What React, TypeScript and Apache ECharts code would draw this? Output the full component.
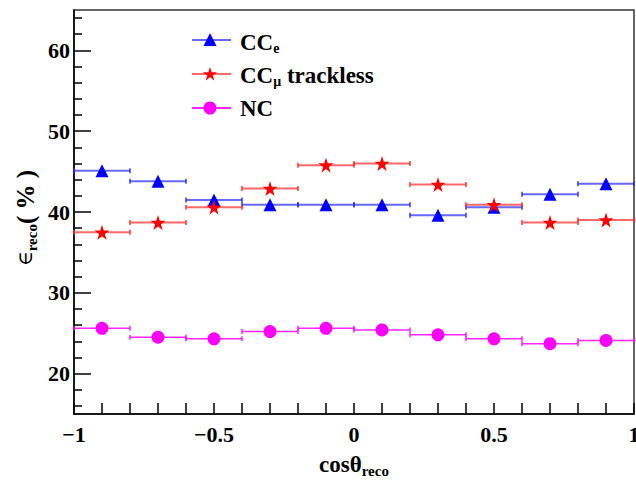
import React, { useEffect, useRef } from "react";
import * as echarts from "echarts";

// Bin centres in cos(theta_reco); each bin spans +/- BIN_HALF_WIDTH
const BIN_CENTERS = [-0.9, -0.7, -0.5, -0.3, -0.1, 0.1, 0.3, 0.5, 0.7, 0.9];
const BIN_HALF_WIDTH = 0.1;

// Reconstruction efficiency (%) per bin
const CC_E = [45.1, 43.8, 41.5, 40.9, 40.9, 40.9, 39.6, 40.6, 42.2, 43.5];
const CC_MU_TRACKLESS = [37.5, 38.7, 40.6, 42.9, 45.8, 46.0, 43.4, 40.9, 38.7, 39.0];
const NC = [25.6, 24.5, 24.3, 25.2, 25.6, 25.4, 24.8, 24.3, 23.7, 24.1];

// Axis ticks and labels
const X_TICKS = [-1, -0.9, -0.8, -0.7, -0.6, -0.5, -0.4, -0.3, -0.2, -0.1, 0, 0.1, 0.2, 0.3, 0.4, 0.5, 0.6, 0.7, 0.8, 0.9, 1];
const X_LABELS = [-1, -0.5, 0, 0.5, 1];
const Y_MAJOR = [20, 30, 40, 50, 60];
const Y_MINOR = [16, 18, 22, 24, 26, 28, 32, 34, 36, 38, 42, 44, 46, 48, 52, 54, 56, 58, 62, 64];
const Y_MIN = 15;
const Y_MAX = 65;

const SERIF = "'Liberation Serif', 'Times New Roman', serif";

const STAR_PATH =
  "path://M100,0 L122.45,69.1 L195.11,69.1 L136.33,111.8 L158.78,180.9 L100,138.2 L41.22,180.9 L63.67,111.8 L4.89,69.1 L77.55,69.1 Z";

function starPoints(cx: number, cy: number, r: number): number[][] {
  const pts: number[][] = [];
  for (let i = 0; i < 10; i++) {
    const a = -Math.PI / 2 + (i * Math.PI) / 5;
    const rr = i % 2 === 0 ? r : r * 0.382;
    pts.push([cx + rr * Math.cos(a), cy + rr * Math.sin(a)]);
  }
  return pts;
}

function pairs(ys: number[]): number[][] {
  return BIN_CENTERS.map((x, i) => [x, ys[i]]);
}

function errorBars(name: string, ys: number[], color: string, width: number) {
  return {
    name,
    type: "custom",
    data: pairs(ys),
    z: 2,
    renderItem: (_params: any, api: any) => {
      const x = api.value(0);
      const y = api.value(1);
      const a = api.coord([x - BIN_HALF_WIDTH, y]);
      const b = api.coord([x + BIN_HALF_WIDTH, y]);
      const style = { stroke: color, lineWidth: width };
      return {
        type: "group",
        children: [
          { type: "line", shape: { x1: a[0], y1: a[1], x2: b[0], y2: b[1] }, style },
          { type: "line", shape: { x1: a[0], y1: a[1] - 2.5, x2: a[0], y2: a[1] + 2.5 }, style },
          { type: "line", shape: { x1: b[0], y1: b[1] - 2.5, x2: b[0], y2: b[1] + 2.5 }, style },
        ],
      };
    },
  };
}

function markers(name: string, ys: number[], color: string, symbol: string, size: number) {
  return {
    name,
    type: "scatter",
    data: pairs(ys),
    symbol,
    symbolSize: size,
    z: 3,
    itemStyle: { color, opacity: 1 },
  };
}

const BLUE = "#0000ff";
const RED = "#ff0000";
const MAGENTA = "#ff00ff";
const BLUE_BAR = "rgba(40,40,255,0.7)";
const RED_BAR = "rgba(255,40,40,0.7)";
const MAGENTA_BAR = "rgba(255,0,255,0.85)";

export default function App() {
  const ref = useRef<HTMLDivElement>(null);

  useEffect(() => {
    document.body.style.margin = "0";
    if (!ref.current) return;
    const chart = echarts.init(ref.current, undefined, { renderer: "svg" });

    const labelStyle = { fontFamily: SERIF, fontWeight: "bold", fontSize: 22, color: "#000" };
    const legendRich = {
      m: { fontFamily: SERIF, fontWeight: "bold", fontSize: 23, color: "#000" },
      s: { fontFamily: SERIF, fontWeight: "bold", fontSize: 14, color: "#000", padding: [13, 0, 0, 0] },
    };

    const legendX0 = 192;
    const legendX1 = 231;
    const legendMX = 210;
    const rows = [40, 74, 108];

    chart.setOption({
      animation: false,
      grid: {
        left: 74,
        right: 2,
        top: 10,
        bottom: 68,
        outerBoundsMode: "none",
        containLabel: false,
        show: true,
        borderColor: "#333",
        borderWidth: 1.5,
        backgroundColor: "transparent",
      },
      xAxis: {
        type: "value",
        min: -1,
        max: 1,
        interval: 0.5,
        axisLine: { onZero: false, lineStyle: { color: "#000", width: 1.5 } },
        axisTick: { inside: true, length: 11, customValues: X_TICKS, lineStyle: { color: "#000", width: 1.5 } },
        axisLabel: {
          ...labelStyle,
          margin: 9,
          customValues: X_LABELS,
          formatter: (v: number) => (v < 0 ? "\u2212" + Math.abs(v) : String(v)),
        },
        splitLine: { show: false },
      },
      yAxis: [
        {
          type: "value",
          min: Y_MIN,
          max: Y_MAX,
          position: "left",
          axisLine: { show: true, onZero: false, lineStyle: { color: "#000", width: 1.5 } },
          axisTick: { inside: true, length: 17, customValues: Y_MAJOR, lineStyle: { color: "#000", width: 1.5 } },
          axisLabel: { ...labelStyle, margin: 4, customValues: Y_MAJOR },
          splitLine: { show: false },
        },
        {
          type: "value",
          min: Y_MIN,
          max: Y_MAX,
          position: "left",
          offset: 0,
          axisLine: { show: false, onZero: false },
          axisTick: { inside: true, length: 8, customValues: Y_MINOR, lineStyle: { color: "#000", width: 1.5 } },
          axisLabel: { show: false },
          splitLine: { show: false },
        },
      ],
      series: [
        errorBars("CCe", CC_E, BLUE_BAR, 2),
        markers("CCe", CC_E, BLUE, "triangle", 13),
        errorBars("CCmu", CC_MU_TRACKLESS, RED_BAR, 2),
        markers("CCmu", CC_MU_TRACKLESS, RED, STAR_PATH, 15),
        errorBars("NC", NC, MAGENTA_BAR, 1.5),
        markers("NC", NC, MAGENTA, "circle", 13),
      ],
      graphic: [
        // legend
        { type: "line", shape: { x1: legendX0, y1: rows[0], x2: legendX1, y2: rows[0] }, style: { stroke: BLUE_BAR, lineWidth: 2 } },
        { type: "polygon", shape: { points: [[legendMX, rows[0] - 7], [legendMX + 6.5, rows[0] + 6], [legendMX - 6.5, rows[0] + 6]] }, style: { fill: BLUE } },
        { type: "text", x: 240, y: rows[0] + 2, style: { text: "{m|CC}{s|e}", rich: legendRich, verticalAlign: "middle" } },

        { type: "line", shape: { x1: legendX0, y1: rows[1], x2: legendX1, y2: rows[1] }, style: { stroke: RED_BAR, lineWidth: 2 } },
        { type: "polygon", shape: { points: starPoints(legendMX, rows[1] + 0.5, 7.5) }, style: { fill: RED } },
        { type: "text", x: 240, y: rows[1] + 1, style: { text: "{m|CC}{s|\u03bc}{m| trackless}", rich: legendRich, verticalAlign: "middle" } },

        { type: "line", shape: { x1: legendX0, y1: rows[2], x2: legendX1, y2: rows[2] }, style: { stroke: MAGENTA_BAR, lineWidth: 2 } },
        { type: "circle", shape: { cx: legendMX, cy: rows[2], r: 6.5 }, style: { fill: MAGENTA } },
        { type: "text", x: 240, y: rows[2], style: { text: "{m|NC}", rich: legendRich, verticalAlign: "middle" } },

        // axis titles
        {
          type: "text",
          x: 354,
          y: 464,
          style: {
            text: "{m|cos\u03b8}{s|reco}",
            align: "center",
            verticalAlign: "middle",
            rich: {
              m: { fontFamily: SERIF, fontWeight: "bold", fontSize: 23, color: "#000" },
              s: { fontFamily: SERIF, fontWeight: "bold", fontSize: 15, color: "#000", padding: [13, 0, 0, 0] },
            },
          },
        },
        {
          type: "text",
          x: 25,
          y: 218,
          rotation: Math.PI / 2,
          style: {
            text: "{e|\u2208}{s|reco}{p|( % )}",
            align: "center",
            verticalAlign: "middle",
            rich: {
              e: { fontFamily: "'DejaVu Serif', serif", fontWeight: "normal", fontSize: 20, color: "#000" },
              s: { fontFamily: SERIF, fontWeight: "bold", fontSize: 15, color: "#000", padding: [13, 0, 0, 0] },
              p: { fontFamily: SERIF, fontWeight: "bold", fontSize: 25, color: "#000" },
            },
          },
        },
      ],
    });

    return () => chart.dispose();
  }, []);

  return <div ref={ref} style={{ width: 636, height: 482 }} />;
}
